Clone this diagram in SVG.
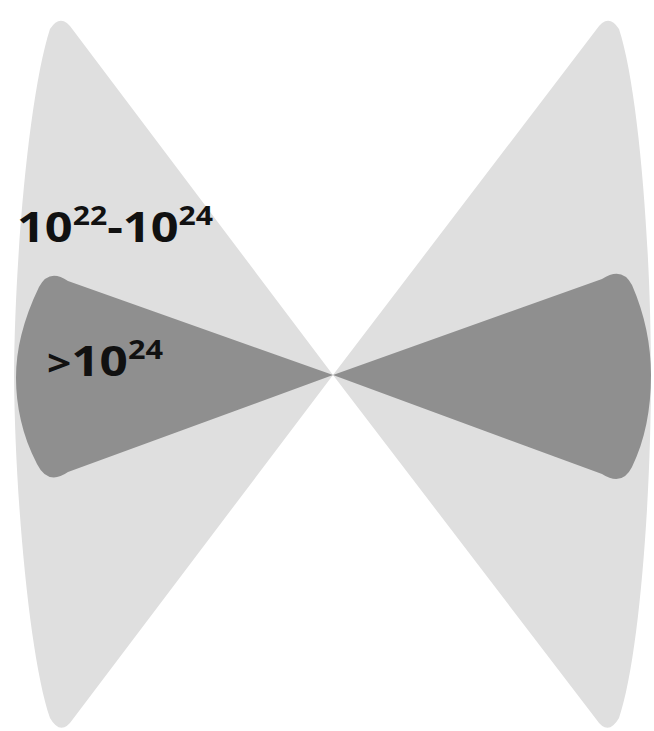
<svg xmlns="http://www.w3.org/2000/svg" width="654" height="731" viewBox="0 0 654 731">
<style>
.light{fill:#dfdfdf}
.dark{fill:#8f8f8f}
.lbl{font-family:"Open Sans","Liberation Sans",sans-serif;font-weight:bold;fill:#111}
</style>
<rect width="654" height="731" fill="#ffffff"/>
<g id="left-outer"><path class="light" d="M333,375 L73,30 Q61,12 50,29 C30,90 15,250 14,375 C15,500 30,660 50,718 Q61,737 73,719 Z"/></g>
<g id="right-outer"><path class="light" d="M333,375 L596,30 Q608,12 619,29 C639,90 651,250 651,375 C651,500 639,660 619,718 Q608,737 596,719 Z"/></g>
<g id="left-inner"><path class="dark" d="M333,375 L68,281 Q49,268 39,287 C23,320 16,350 16,378 C16,405 22,435 37,464 Q48,486 68,472 Z"/></g>
<g id="right-inner"><path class="dark" d="M333,375 L602,279 Q622,266 632,285 C645,315 651,345 651,375 C651,410 645,440 632,467 Q622,487 602,474 Z"/></g>
<g id="label-outer"><text class="lbl" x="17" y="242" font-size="42" textLength="196" lengthAdjust="spacingAndGlyphs">10<tspan font-size="26" dy="-17">22</tspan><tspan dy="17">-10</tspan><tspan font-size="26" dy="-17">24</tspan></text></g>
<g id="label-inner"><text class="lbl" x="47" y="376" font-size="42" textLength="116" lengthAdjust="spacingAndGlyphs"><tspan font-size="36">&gt;</tspan>10<tspan font-size="26" dy="-17">24</tspan></text></g>
</svg>
